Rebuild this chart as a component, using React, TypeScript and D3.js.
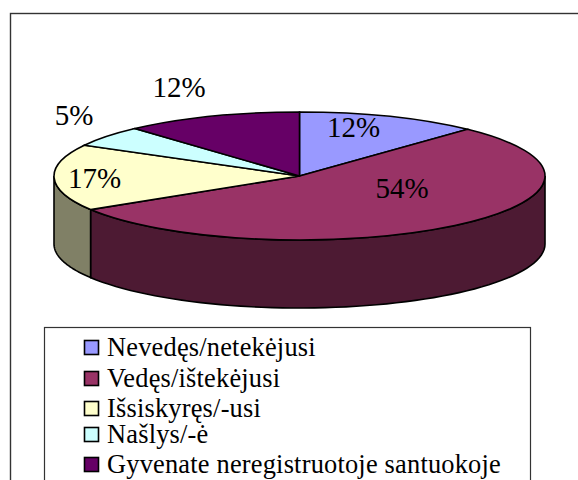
import React from "react";
import * as d3 from "d3";

const categories = ["Nevedęs/netekėjusi", "Vedęs/ištekėjusi", "Išsiskyręs/-usi", "Našlys/-ė", "Gyvenate neregistruotoje santuokoje"];
const values = [12, 54.2, 16.8, 5.3, 11.7];
const colors = ["#9999FF", "#993366", "#FFFFCC", "#CCFFFF", "#660066"];
const wallColors = ["#4D4D80", "#4D1A33", "#808066", "#668080", "#330033"];
const labelPos: [number, number][] = [[353.5, 137], [402, 198], [94.5, 188], [74, 125], [179, 97]];
const legendY = [356, 387, 417, 443, 473];
const serif = "'Liberation Serif', serif";

const cx = 299.5, cy = 176, rx = 245.5, ry = 64, depth = 68;
const px = (a: number) => cx + rx * Math.sin(a);
const py = (a: number) => cy - ry * Math.cos(a);

export default function App() {
  const pie = d3.pie<number>().sort(null)(values);
  const arc = d3.arc<d3.PieArcDatum<number>>().innerRadius(0).outerRadius(rx);
  const line = d3.line();
  const walls = pie.map((s, i) => {
    const a0 = Math.max(s.startAngle, Math.PI / 2);
    const a1 = Math.min(s.endAngle, (3 * Math.PI) / 2);
    if (a0 >= a1) return null;
    const ang = d3.range(0, 61).map((k) => a0 + ((a1 - a0) * k) / 60);
    const pts: [number, number][] = [
      ...ang.map((a): [number, number] => [px(a), py(a)]),
      ...ang.slice().reverse().map((a): [number, number] => [px(a), py(a) + depth]),
    ];
    return <path key={i} d={line(pts) + "Z"} fill={wallColors[i]} stroke="#000" strokeWidth={1.6} />;
  });
  return (
    <svg width={578} height={480} style={{ position: "fixed", left: 0, top: 0, background: "#fff" }}>
      <rect x={10.5} y={13.5} width={600} height={500} fill="#fff" stroke="#333" strokeWidth={1.4} />
      {walls}
      <g transform={`translate(${cx},${cy}) scale(1,${ry / rx})`}>
        {pie.map((s, i) => (
          <path key={i} d={arc(s) ?? ""} fill={colors[i]} stroke="#000" strokeWidth={1.6} vectorEffect="non-scaling-stroke" />
        ))}
      </g>
      {values.map((v, i) => (
        <text key={i} x={labelPos[i][0]} y={labelPos[i][1]} textAnchor="middle" fontFamily={serif} fontSize={29} fill="#000">{Math.round(v)}%</text>
      ))}
      <rect x={44.5} y={327.5} width={486} height={170} fill="#fff" stroke="#333" strokeWidth={1.2} />
      {categories.map((c, i) => (
        <g key={c}>
          <rect x={84.5} y={legendY[i] - 15.5} width={14} height={14} fill={colors[i]} stroke="#000" strokeWidth={1.6} />
          <text x={107} y={legendY[i]} fontFamily={serif} fontSize={26.4} letterSpacing={0.2} fill="#000">{c}</text>
        </g>
      ))}
    </svg>
  );
}
